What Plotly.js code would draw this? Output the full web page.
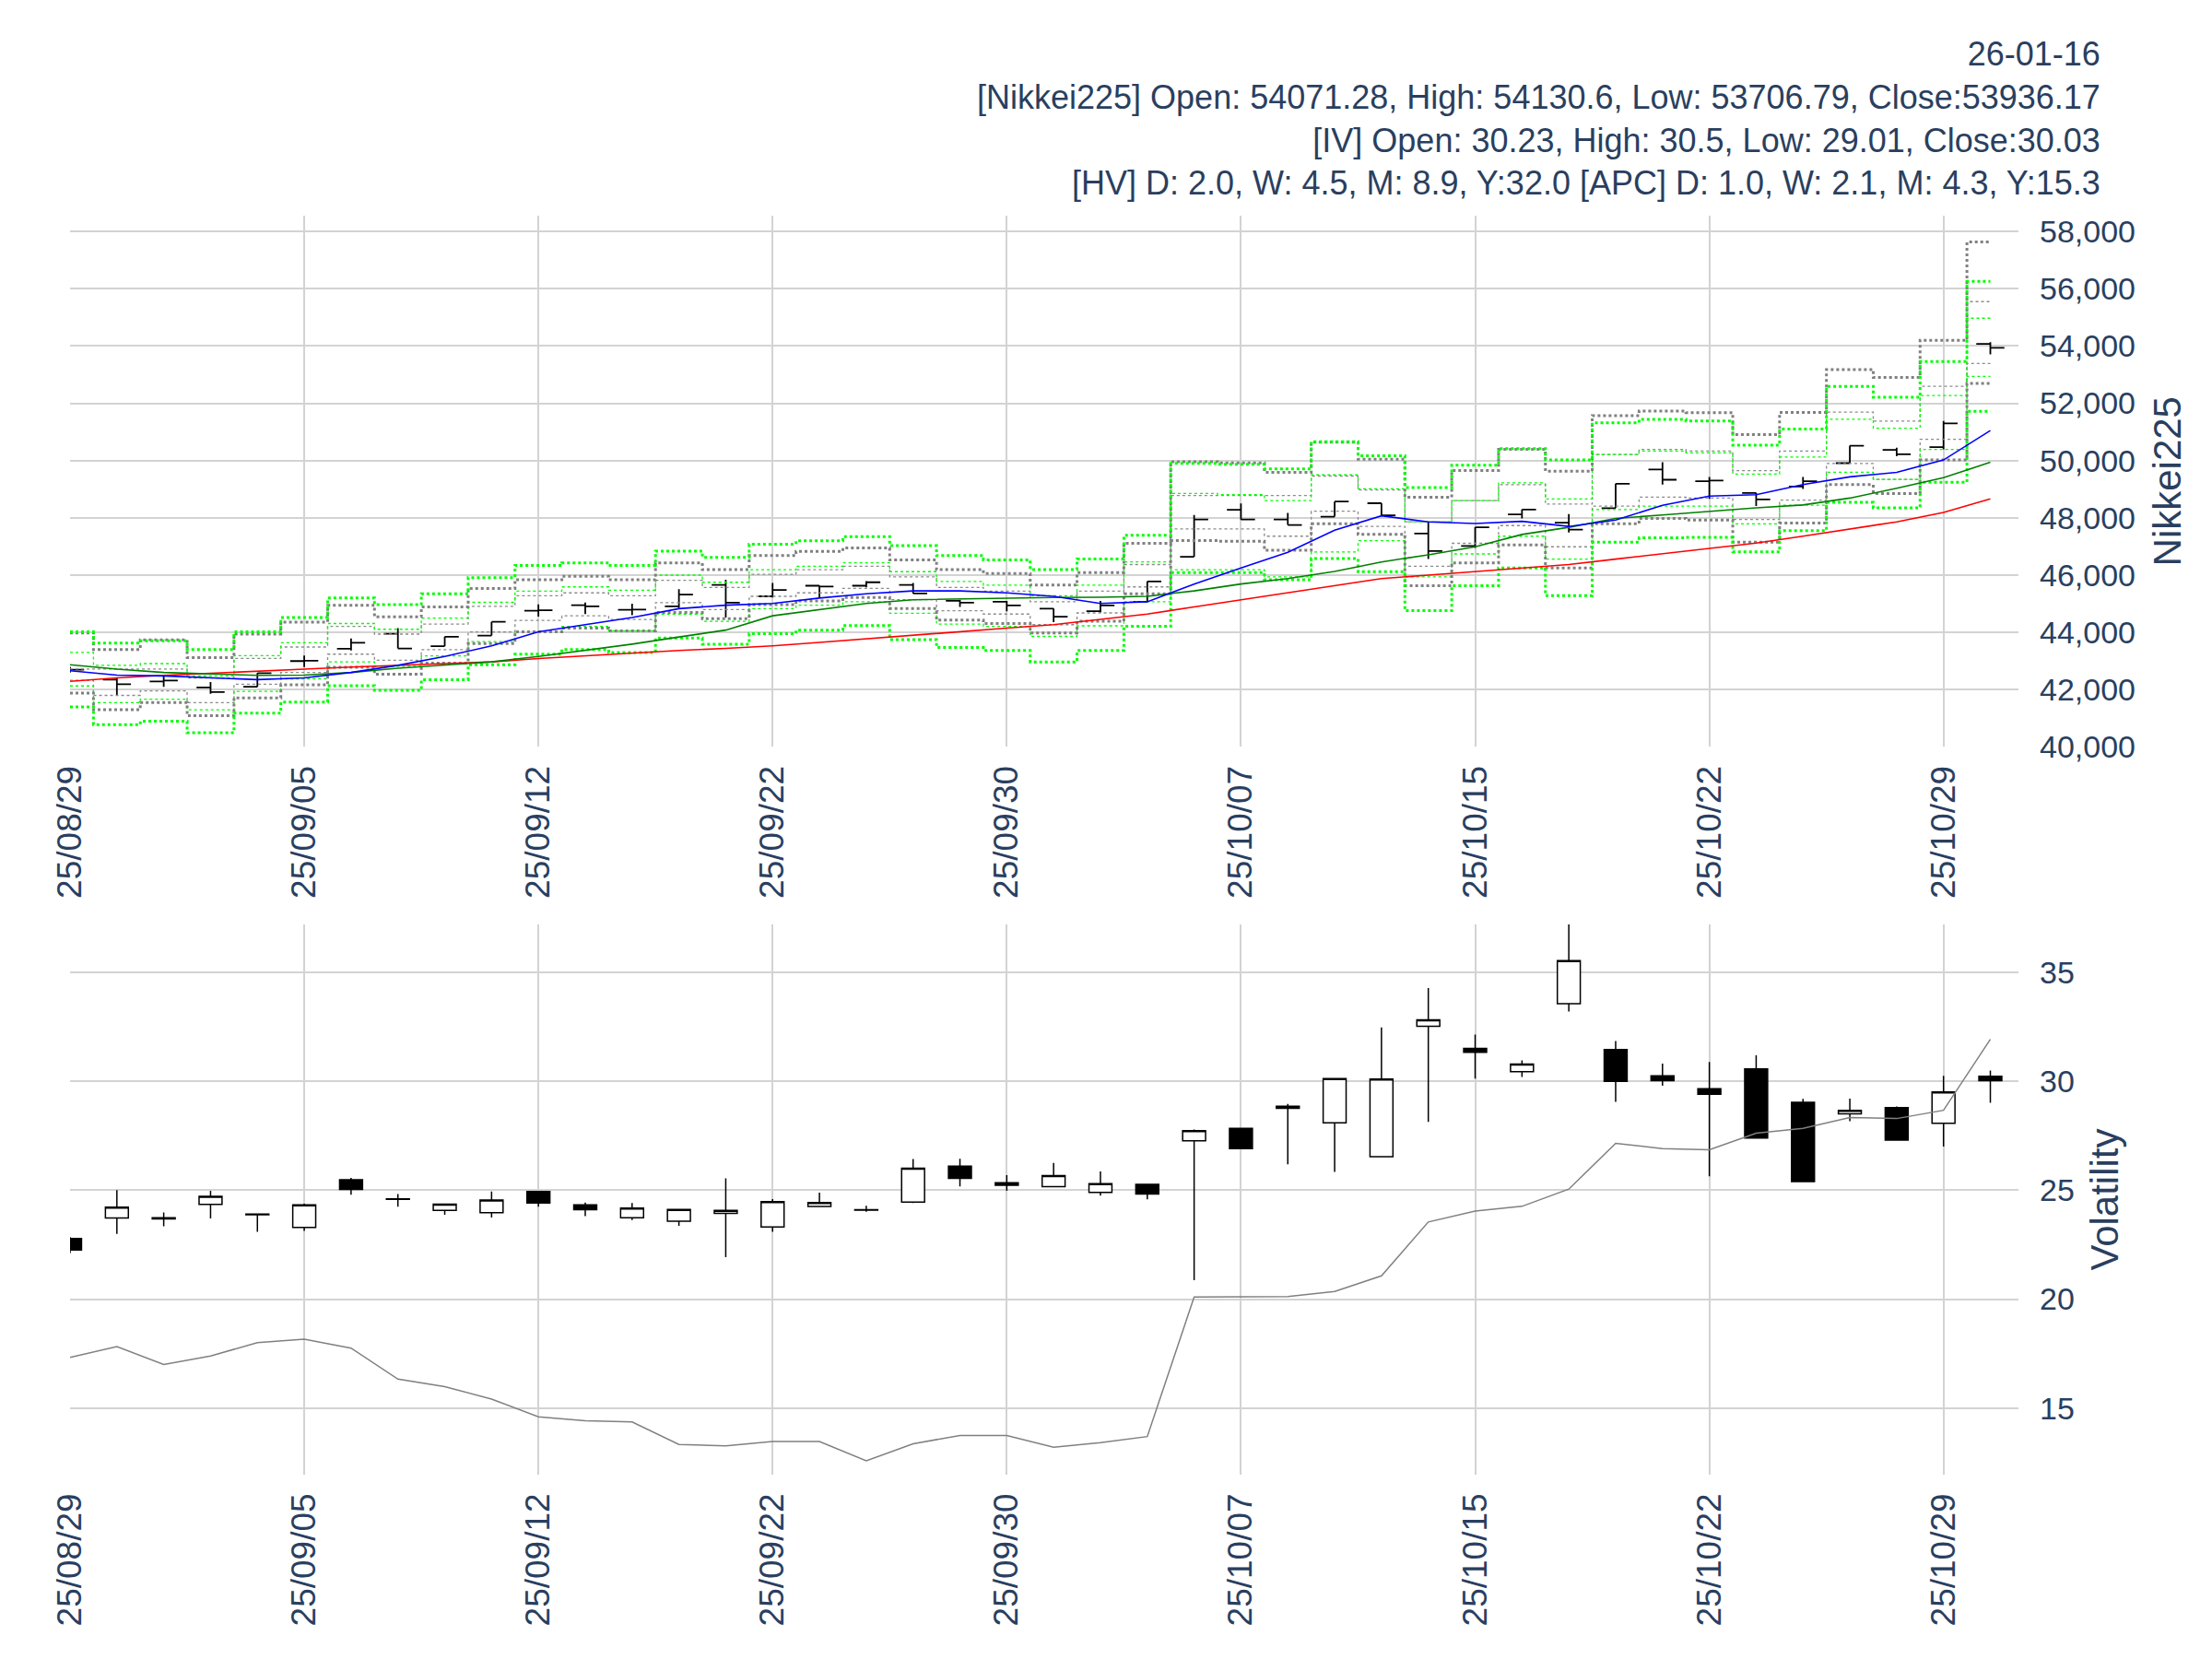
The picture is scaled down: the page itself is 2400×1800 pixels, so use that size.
<!DOCTYPE html>
<html>
<head>
<meta charset="utf-8">
<script src="https://cdn.plot.ly/plotly-3.0.1.min.js"></script>
<style>html,body{margin:0;padding:0;background:#fff}</style>
</head>
<body>
<div id="chart" style="width:2400px;height:1800px"></div>
<script>
const dates = ['25/08/29','25/09/01','25/09/02','25/09/03','25/09/04','25/09/05','25/09/08','25/09/09','25/09/10','25/09/11',
  '25/09/12','25/09/16','25/09/17','25/09/18','25/09/19','25/09/22','25/09/24','25/09/25','25/09/26','25/09/29',
  '25/09/30','25/10/01','25/10/02','25/10/03','25/10/06','25/10/07','25/10/08','25/10/09','25/10/10','25/10/14',
  '25/10/15','25/10/16','25/10/17','25/10/20','25/10/21','25/10/22','25/10/23','25/10/24','25/10/27','25/10/28',
  '25/10/29','25/10/30'];

// Nikkei225 OHLC
const nkOpen  = [42650,42350,42290,42080,42100,43000,43430,43950,43520,43890,44760,44950,44790,44910,45660,45260,45630,45630,45660,45100,45070,44830,44740,45070,46640,48280,47940,48040,48510,47450,47020,48120,47830,48340,49690,49280,48870,49090,49910,50370,50470,54071.28];
const nkHigh  = [42800,42410,42480,42270,42580,43190,43790,44150,43850,44370,44980,45040,45000,45510,45840,45730,45640,45790,45730,45140,45100,44830,45100,45780,48100,48500,48170,48570,48510,47860,47670,48290,48130,49190,49940,49430,48870,49430,50520,50450,51380,54130.6];
const nkLow   = [42600,41820,42100,41860,42100,42790,43370,43440,43520,43890,44550,44640,44600,44850,44520,45220,45220,45570,45360,44890,44740,44360,44700,45070,46640,47940,47750,48040,48090,46560,46950,47980,47490,48340,49160,48660,48410,49010,49910,50150,50390,53706.79];
const nkClose = [42700,42190,42320,41920,42580,43010,43640,43440,43850,44370,44770,44910,44800,45320,45040,45480,45600,45750,45360,45040,44940,44550,44940,45780,47940,47940,47750,48570,48090,46840,47670,48290,47590,49190,49330,49300,48640,49280,50520,50220,51300,53936.17];

// moving averages
const maShort = [42660,42510,42480,42410,42350,42410,42600,42850,43160,43530,44020,44270,44520,44830,44950,45010,45200,45350,45450,45450,45380,45260,45010,45070,45690,46250,46800,47570,48070,47860,47800,47880,47700,47920,48440,48760,48810,49160,49430,49590,50020,51050];
const maMid   = [42870,42720,42600,42540,42500,42510,42600,42750,42850,42970,43160,43370,43590,43840,44080,44580,44800,45010,45140,45170,45200,45220,45230,45260,45450,45690,45880,46130,46460,46710,46990,47420,47670,47980,48100,48230,48350,48450,48690,49030,49400,49940];
const maLong  = [42290,42410,42500,42580,42660,42720,42790,42850,42910,42970,43090,43190,43280,43370,43440,43530,43650,43780,43900,44020,44150,44270,44460,44640,44890,45140,45380,45630,45880,46000,46130,46250,46370,46560,46740,46930,47120,47360,47610,47860,48190,48660];

// expected range bands (green = IV based, grey = HV based)
const ivUp2 = [44020,43630,43710,43400,44020,44520,45200,44970,45350,45910,46340,46430,46340,46840,46620,47080,47200,47340,47030,46680,46530,46190,46560,47390,49900,49870,49710,50660,50170,49060,49840,50420,50020,51320,51440,51380,50540,51100,52590,52210,53460,56260];
const ivUp1 = [43300,42850,42910,42480,43190,43640,44310,44110,44500,45050,45440,45590,45470,46000,45750,46190,46310,46430,46120,45780,45650,45280,45650,46460,48850,48810,48600,49500,49010,47860,48600,49220,48660,50210,50330,50270,49530,50120,51440,51130,52270,54970];
const ivLo1 = [42130,41550,41670,41300,41940,42380,42970,42820,43180,43680,44050,44210,44050,44640,44390,44830,44950,45070,44670,44290,44210,43860,44230,45070,46190,46190,45940,46810,47200,45940,46740,47360,46560,48290,48410,48410,47790,48440,49590,49340,50390,52940];
const ivLo2 = [41400,40780,40900,40500,41180,41570,42140,41980,42350,42870,43240,43400,43300,43800,43590,43960,44080,44240,43750,43470,43370,42970,43370,44210,46090,46090,45840,46580,46120,44760,45630,46250,45280,47150,47300,47320,46810,47550,48540,48350,49240,51720];
const hvUp2 = [43980,43400,43740,43120,43940,44360,44950,44540,44890,45530,45840,45960,45840,46430,46190,46680,46830,46950,46530,46190,46060,45650,46090,47110,49960,49920,49590,50640,50050,48720,49650,50390,49630,51570,51730,51670,50910,51680,53180,52900,54200,57630];
const hvUp1 = [42720,42720,42720,42410,43090,43490,44210,43940,44290,44910,45280,45380,45280,45820,45570,46030,46190,46310,45940,45570,45440,45070,45440,46370,48780,48780,48780,49460,48970,47860,48600,49160,48480,50210,50390,50330,49650,50330,51690,51380,52590,55550];
const hvLo1 = [42330,41800,41960,41550,42190,42600,43240,43030,43400,44020,44420,44580,44450,45040,44800,45260,45380,45540,45140,44760,44640,44270,44680,45590,47610,47610,47360,48230,47700,46310,47110,47730,46990,48410,48720,48690,47940,48620,49900,49340,50740,53390];
const hvLo2 = [41880,41300,41550,41090,41710,42170,42780,42540,42930,43610,44020,44150,44050,44700,44480,44970,45100,45220,44830,44430,44310,43980,44390,45350,47210,47180,46870,47790,47420,45630,46430,47050,46250,47790,47980,47920,47150,47820,49160,48850,50020,52690];

// implied volatility OHLC
const ivOpen  = [22.78,23.73,23.74,24.35,23.90,23.29,25.48,24.60,24.07,23.97,24.94,24.33,23.74,23.58,23.94,23.31,24.25,24.08,24.45,26.10,25.34,25.16,24.90,25.27,27.27,27.84,28.86,28.09,26.54,32.53,31.51,30.44,33.56,31.46,30.25,29.66,30.57,29.04,28.51,28.79,28.07,30.23];
const ivHigh  = [22.85,25.00,23.98,24.97,23.94,24.38,25.57,24.83,24.36,24.94,24.94,24.43,24.41,24.12,25.54,24.59,24.89,24.29,26.43,26.44,25.69,26.25,25.86,25.27,27.79,27.87,28.96,30.13,32.47,34.28,32.15,30.96,37.48,31.85,30.81,30.89,31.19,29.19,29.21,28.84,30.25,30.5];
const ivLow   = [22.11,22.99,23.34,23.70,23.09,23.13,24.79,24.24,23.87,23.75,24.24,23.81,23.63,23.37,21.93,23.09,24.25,24.01,24.41,25.17,24.97,25.16,24.75,24.58,20.87,26.91,26.19,25.84,26.54,28.14,30.13,30.20,33.20,29.06,29.80,25.64,27.40,25.40,28.17,27.30,27.00,29.01];
const ivClose = [22.25,24.22,23.68,24.72,23.87,24.33,25.04,24.58,24.36,24.55,24.41,24.11,24.18,24.12,24.07,24.48,24.43,24.11,26.01,25.54,25.23,25.67,25.30,24.82,27.73,26.91,28.76,30.13,30.10,32.82,31.33,30.79,35.54,30.00,30.03,29.41,27.40,25.40,28.67,27.30,29.51,30.03];

// historical volatility
const hv = [17.32,17.82,17.00,17.39,18.00,18.16,17.75,16.33,15.98,15.41,14.60,14.42,14.36,13.33,13.26,13.46,13.46,12.58,13.36,13.74,13.74,13.20,13.41,13.69,20.10,20.10,20.12,20.35,21.07,23.54,24.04,24.26,25.05,27.15,26.91,26.86,27.62,27.84,28.34,28.29,28.67,31.93];

const headerLines = [
  '26-01-16',
  '[Nikkei225] Open: 54071.28, High: 54130.6, Low: 53706.79, Close:53936.17',
  '[IV] Open: 30.23, High: 30.5, Low: 29.01, Close:30.03',
  '[HV] D: 2.0, W: 4.5, M: 8.9, Y:32.0 [APC] D: 1.0, W: 2.1, M: 4.3, Y:15.3'
];

const tickDates = dates.filter((d, i) => i % 5 === 0);

function band(y, color, width){
  return {x: dates, y: y, type: 'scatter', mode: 'lines', hoverinfo: 'skip',
    line: {color: color, width: width, dash: 'dot', shape: 'hvh'}, xaxis: 'x', yaxis: 'y'};
}
function ma(y, color){
  return {x: dates, y: y, type: 'scatter', mode: 'lines', line: {color: color, width: 1.6}, xaxis: 'x', yaxis: 'y'};
}

let data = [
  band(hvUp1, '#8a8a8a', 1.3), band(hvLo1, '#8a8a8a', 1.3),
  band(ivUp1, '#00ff00', 1.3), band(ivLo1, '#00ff00', 1.3),
  band(hvUp2, '#808080', 3), band(hvLo2, '#808080', 3),
  band(ivUp2, '#00ff00', 3), band(ivLo2, '#00ff00', 3),
  ma(maLong, 'red'), ma(maMid, 'green'), ma(maShort, 'blue'),
  {x: dates, open: nkOpen, high: nkHigh, low: nkLow, close: nkClose, type: 'ohlc', tickwidth: 0.3,
   increasing: {line: {color: 'black', width: 1.8}}, decreasing: {line: {color: 'black', width: 1.8}},
   xaxis: 'x', yaxis: 'y'},
  {x: dates, y: hv, type: 'scatter', mode: 'lines', line: {color: 'grey', width: 1.5}, xaxis: 'x2', yaxis: 'y2'},
  {x: dates, open: ivOpen, high: ivHigh, low: ivLow, close: ivClose, type: 'candlestick', whiskerwidth: 0,
   increasing: {line: {color: 'black', width: 1.5}, fillcolor: 'white'},
   decreasing: {line: {color: 'black', width: 1.5}, fillcolor: 'black'},
   xaxis: 'x2', yaxis: 'y2'}
];

const font = {family: 'Liberation Sans, Arial, sans-serif', color: '#2a3f5f', size: 34};
const xCommon = {
  type: 'category', range: [0, 41.6], tickmode: 'array', tickvals: tickDates, ticktext: tickDates,
  tickangle: -90, showgrid: true, gridcolor: '#d3d3d3', gridwidth: 2, zeroline: false,
  showline: false, rangeslider: {visible: false}, tickfont: {size: 37}, ticklabelstandoff: 12
};

let layout = {
  width: 2400, height: 1800,
  font: font,
  showlegend: false,
  paper_bgcolor: 'white', plot_bgcolor: 'white',
  margin: {l: 76, r: 210, t: 234, b: 200},
  xaxis: Object.assign({}, xCommon, {anchor: 'y', domain: [0, 1]}),
  xaxis2: Object.assign({}, xCommon, {anchor: 'y2', domain: [0, 1]}),
  yaxis: {domain: [0.578, 1], range: [40000, 58550], side: 'right', tickformat: ',d', dtick: 2000,
    gridcolor: '#d3d3d3', gridwidth: 2, zeroline: false, tickfont: {size: 34}, ticklabelstandoff: 22,
    title: {text: 'Nikkei225', font: {size: 42}, standoff: 20}},
  yaxis2: {domain: [0, 0.437], range: [11.94, 37.2], side: 'right', dtick: 5,
    gridcolor: '#d3d3d3', gridwidth: 2, zeroline: false, tickfont: {size: 34}, ticklabelstandoff: 22,
    title: {text: 'Volatility', font: {size: 42}, standoff: 18}},
  annotations: [{
    xref: 'paper', yref: 'paper', x: 1.043, y: 1.145, xanchor: 'right', yanchor: 'top',
    align: 'right', showarrow: false, text: headerLines.join('<br>'), font: {size: 36}
  }]
};

Plotly.newPlot('chart', data, layout, {staticPlot: true});
</script>
</body>
</html>
